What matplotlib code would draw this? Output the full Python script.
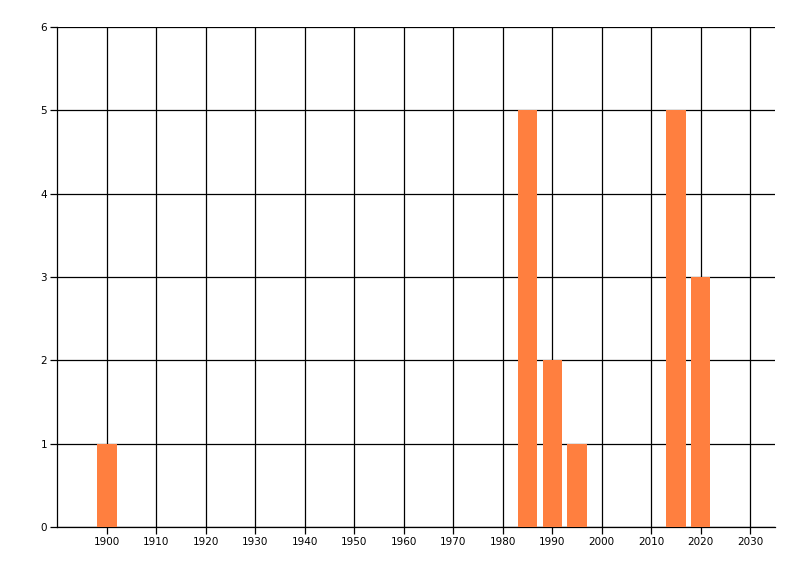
import matplotlib
matplotlib.use("Agg")
import matplotlib.pyplot as plt

years = [1900, 1985, 1990, 1995, 2015, 2020]
counts = [1, 5, 2, 1, 5, 3]
x_ticks = list(range(1900, 2031, 10))
y_ticks = list(range(0, 7))

fig = plt.figure(figsize=(8, 5.76), dpi=100)
ax = fig.add_axes([57 / 800, 1 - 527 / 576, (775 - 57) / 800, (527 - 27) / 576])

ax.bar(years, counts, width=3.9, color="#FF7F3F", zorder=3)

ax.set_xlim(1889.9, 2035)
ax.set_ylim(0, 6)
ax.set_xticks(x_ticks)
ax.set_yticks(y_ticks)
ax.grid(True, color="black", linewidth=0.9, zorder=1)
ax.set_axisbelow(True)

for side in ["top", "right"]:
    ax.spines[side].set_visible(False)
for side in ["left", "bottom"]:
    ax.spines[side].set_linewidth(0.9)

ax.tick_params(axis="both", direction="out", length=5, width=0.9, labelsize=7.5, pad=2)

fig.savefig("out.png", dpi=100)
